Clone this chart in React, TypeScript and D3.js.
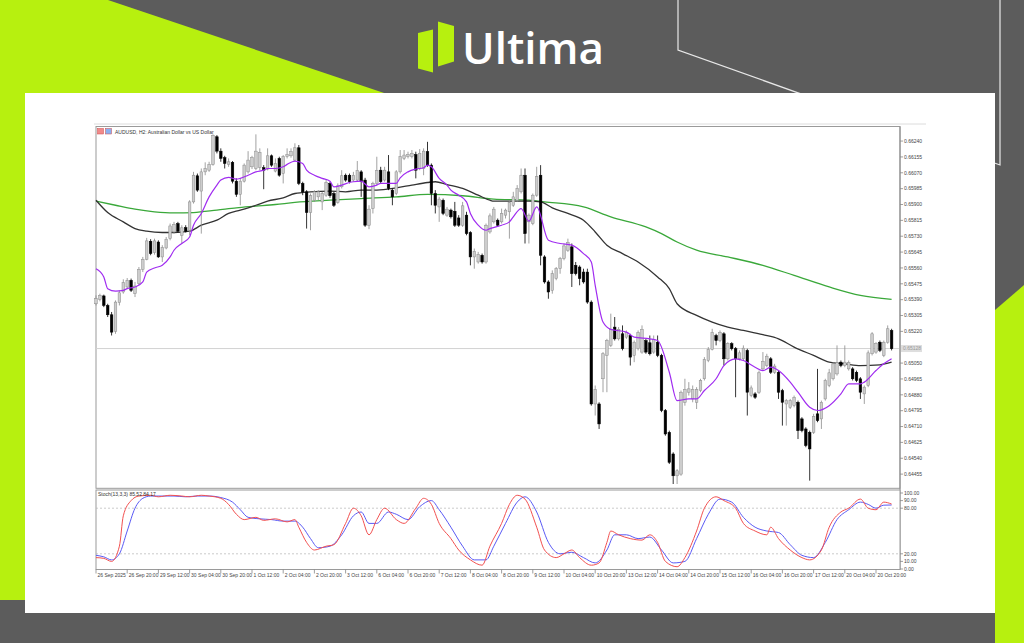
import React from "react";
import * as d3 from "d3";

const W = 1024;
const H = 643;

const symbolTitle = "AUDUSD, H2:  Australian Dollar vs US Dollar";
const stochTitle = "Stoch(13,3,3) 85.52 84.17";
const brandName = "Ultima";

const opens = [
  0.65368, 0.65392, 0.65410, 0.65359, 0.65309, 0.65220, 0.65374, 0.65431, 0.65458, 0.65494,
  0.65422, 0.65476, 0.65553, 0.65606, 0.65703, 0.65642, 0.65699, 0.65619, 0.65667, 0.65717,
  0.65753, 0.65798, 0.65735, 0.65776, 0.65762, 0.65914, 0.66054, 0.65972, 0.66075, 0.66084,
  0.66115, 0.66263, 0.66186, 0.66151, 0.66115, 0.66126, 0.66025, 0.65954, 0.66025, 0.66075,
  0.66102, 0.66093, 0.66097, 0.66097, 0.66090, 0.66161, 0.66079, 0.66147, 0.66066, 0.66156,
  0.66161, 0.66138, 0.66204, 0.66013, 0.65968, 0.65857, 0.65923, 0.65941, 0.65914, 0.65950,
  0.66013, 0.65959, 0.65911, 0.65995, 0.66057, 0.66057, 0.66031, 0.66031, 0.66075, 0.66031,
  0.65789, 0.65878, 0.66013, 0.66084, 0.66031, 0.66075, 0.65977, 0.65959, 0.66075, 0.66147,
  0.66156, 0.66156, 0.66168, 0.66093, 0.66093, 0.66183, 0.66111, 0.65959, 0.65887, 0.65923,
  0.65843, 0.65870, 0.65864, 0.65828, 0.65789, 0.65843, 0.65750, 0.65619, 0.65592, 0.65628,
  0.65592, 0.65753, 0.65807, 0.65816, 0.65807, 0.65843, 0.65861, 0.65896, 0.65923, 0.65968,
  0.66057, 0.65807, 0.65798, 0.65950, 0.66057, 0.65619, 0.65485, 0.65440, 0.65503, 0.65556,
  0.65610, 0.65655, 0.65673, 0.65574, 0.65565, 0.65538, 0.65538, 0.65377, 0.64831, 0.64831,
  0.64966, 0.65091, 0.65145, 0.65243, 0.65180, 0.65207, 0.65189, 0.65198, 0.65091, 0.65127,
  0.65109, 0.65171, 0.65159, 0.65109, 0.65162, 0.65091, 0.64796, 0.64679, 0.64563, 0.64446,
  0.64455, 0.64840, 0.64894, 0.64858, 0.64840, 0.64903, 0.64966, 0.65064, 0.65123, 0.65198,
  0.65171, 0.65207, 0.65073, 0.65154, 0.65127, 0.65073, 0.65073, 0.65118, 0.64876, 0.64885,
  0.64894, 0.65019, 0.65037, 0.65073, 0.65001, 0.65001, 0.64903, 0.64831, 0.64813, 0.64822,
  0.64840, 0.64751, 0.64697, 0.64679, 0.64679, 0.64778, 0.64751, 0.64858, 0.64930, 0.64966,
  0.64992, 0.65055, 0.65037, 0.65019, 0.65019, 0.65001, 0.64966, 0.64885, 0.64930, 0.65100,
  0.65109, 0.65162, 0.65091, 0.65162, 0.65225,
];

const closes = [
  0.65395, 0.65413, 0.65359, 0.65309, 0.65216, 0.65377, 0.65427, 0.65481, 0.65494, 0.65440,
  0.65463, 0.65553, 0.65606, 0.65705, 0.65637, 0.65705, 0.65619, 0.65669, 0.65714, 0.65785,
  0.65794, 0.65757, 0.65775, 0.65757, 0.65914, 0.66057, 0.65977, 0.66075, 0.66093, 0.66115,
  0.66269, 0.66186, 0.66147, 0.66120, 0.66129, 0.66025, 0.65954, 0.66025, 0.66111, 0.66138,
  0.66151, 0.66186, 0.66179, 0.66084, 0.66161, 0.66111, 0.66120, 0.66057, 0.66156, 0.66168,
  0.66183, 0.66204, 0.66013, 0.65968, 0.65857, 0.65947, 0.65968, 0.65968, 0.65959, 0.66018,
  0.65947, 0.65896, 0.66000, 0.66054, 0.66031, 0.66022, 0.66057, 0.66081, 0.66022, 0.65789,
  0.65875, 0.66013, 0.66081, 0.66022, 0.66084, 0.65986, 0.65941, 0.66075, 0.66156, 0.66165,
  0.66168, 0.66174, 0.66084, 0.66174, 0.66186, 0.66111, 0.65959, 0.65896, 0.65929, 0.65852,
  0.65875, 0.65834, 0.65789, 0.65789, 0.65893, 0.65744, 0.65619, 0.65649, 0.65633, 0.65592,
  0.65789, 0.65839, 0.65875, 0.65789, 0.65852, 0.65870, 0.65911, 0.65941, 0.65986, 0.66057,
  0.65744, 0.65843, 0.65950, 0.66049, 0.65628, 0.65485, 0.65431, 0.65529, 0.65556, 0.65610,
  0.65678, 0.65696, 0.65529, 0.65529, 0.65503, 0.65485, 0.65377, 0.64831, 0.64908, 0.64724,
  0.65100, 0.65171, 0.65231, 0.65180, 0.65231, 0.65127, 0.65213, 0.65082, 0.65162, 0.65213,
  0.65231, 0.65109, 0.65100, 0.65177, 0.65091, 0.64796, 0.64670, 0.64518, 0.64446, 0.64473,
  0.64894, 0.64908, 0.64912, 0.64908, 0.64908, 0.64957, 0.65069, 0.65123, 0.65213, 0.65171,
  0.65213, 0.65073, 0.65154, 0.65127, 0.65073, 0.65105, 0.65130, 0.64894, 0.64917, 0.64867,
  0.64998, 0.65060, 0.65087, 0.65001, 0.65034, 0.64894, 0.64840, 0.64849, 0.64849, 0.64867,
  0.64688, 0.64688, 0.64608, 0.64590, 0.64765, 0.64742, 0.64840, 0.64957, 0.64998, 0.65046,
  0.65052, 0.65037, 0.65055, 0.65052, 0.64966, 0.64957, 0.64894, 0.64921, 0.65105, 0.65207,
  0.65154, 0.65118, 0.65162, 0.65234, 0.65127,
];

const highs = [
  0.65413, 0.65422, 0.65417, 0.65368, 0.65324, 0.65386, 0.65440, 0.65499, 0.65506, 0.65503,
  0.65485, 0.65565, 0.65619, 0.65721, 0.65714, 0.65717, 0.65708, 0.65682, 0.65726, 0.65798,
  0.65807, 0.65807, 0.65789, 0.65789, 0.65923, 0.66075, 0.66066, 0.66093, 0.66126, 0.66129,
  0.66276, 0.66272, 0.66201, 0.66161, 0.66147, 0.66133, 0.66040, 0.66040, 0.66120, 0.66186,
  0.66161, 0.66276, 0.66201, 0.66111, 0.66201, 0.66168, 0.66147, 0.66156, 0.66165, 0.66201,
  0.66201, 0.66228, 0.66219, 0.66022, 0.65977, 0.65959, 0.65977, 0.65977, 0.65968, 0.66031,
  0.66022, 0.65968, 0.66013, 0.66084, 0.66066, 0.66066, 0.66075, 0.66133, 0.66084, 0.66043,
  0.65896, 0.66022, 0.66156, 0.66102, 0.66102, 0.66165, 0.65986, 0.66084, 0.66192, 0.66192,
  0.66183, 0.66192, 0.66183, 0.66197, 0.66201, 0.66236, 0.66120, 0.65977, 0.65941, 0.65932,
  0.65887, 0.65878, 0.65914, 0.65843, 0.65914, 0.65861, 0.65757, 0.65664, 0.65646, 0.65637,
  0.65798, 0.65852, 0.65887, 0.65825, 0.65878, 0.65878, 0.65923, 0.65968, 0.66004, 0.66093,
  0.66093, 0.65852, 0.65959, 0.66102, 0.66111, 0.65628, 0.65494, 0.65547, 0.65565, 0.65619,
  0.65691, 0.65717, 0.65691, 0.65592, 0.65574, 0.65556, 0.65556, 0.65386, 0.64930, 0.64840,
  0.65109, 0.65180, 0.65315, 0.65297, 0.65243, 0.65252, 0.65225, 0.65207, 0.65171, 0.65225,
  0.65252, 0.65180, 0.65198, 0.65198, 0.65198, 0.65100, 0.64804, 0.64688, 0.64572, 0.64482,
  0.64903, 0.64966, 0.64948, 0.64930, 0.64921, 0.64966, 0.65082, 0.65136, 0.65234, 0.65207,
  0.65225, 0.65216, 0.65162, 0.65162, 0.65136, 0.65118, 0.65145, 0.65127, 0.64930, 0.64894,
  0.65010, 0.65109, 0.65100, 0.65082, 0.65046, 0.65010, 0.64912, 0.64858, 0.64858, 0.64876,
  0.64849, 0.64760, 0.64706, 0.64688, 0.64778, 0.65019, 0.64849, 0.64966, 0.65019, 0.65055,
  0.65145, 0.65064, 0.65145, 0.65064, 0.65028, 0.65010, 0.64975, 0.64930, 0.65118, 0.65216,
  0.65162, 0.65171, 0.65171, 0.65252, 0.65234,
];

const lows = [
  0.65359, 0.65381, 0.65350, 0.65297, 0.65198, 0.65207, 0.65359, 0.65422, 0.65449, 0.65431,
  0.65404, 0.65467, 0.65538, 0.65601, 0.65628, 0.65631, 0.65614, 0.65592, 0.65660, 0.65708,
  0.65744, 0.65750, 0.65691, 0.65750, 0.65735, 0.65905, 0.65968, 0.65744, 0.66057, 0.66075,
  0.66108, 0.66174, 0.66129, 0.66093, 0.66102, 0.66013, 0.65941, 0.65896, 0.66018, 0.66066,
  0.66090, 0.66084, 0.66084, 0.65982, 0.66083, 0.66102, 0.66072, 0.66049, 0.66013, 0.66147,
  0.66151, 0.66129, 0.66004, 0.65950, 0.65771, 0.65762, 0.65914, 0.65923, 0.65870, 0.65941,
  0.65936, 0.65887, 0.65904, 0.65986, 0.66022, 0.66013, 0.66022, 0.66022, 0.65941, 0.65780,
  0.65768, 0.65852, 0.66004, 0.66013, 0.66022, 0.65977, 0.65896, 0.65950, 0.66066, 0.66138,
  0.66147, 0.66147, 0.66040, 0.66084, 0.66057, 0.66102, 0.65896, 0.65852, 0.65807, 0.65843,
  0.65834, 0.65825, 0.65780, 0.65780, 0.65780, 0.65735, 0.65574, 0.65556, 0.65583, 0.65583,
  0.65583, 0.65744, 0.65798, 0.65780, 0.65798, 0.65825, 0.65717, 0.65887, 0.65914, 0.65959,
  0.65691, 0.65691, 0.65789, 0.65941, 0.65574, 0.65476, 0.65395, 0.65422, 0.65494, 0.65529,
  0.65601, 0.65646, 0.65458, 0.65520, 0.65467, 0.65476, 0.65368, 0.64822, 0.64769, 0.64697,
  0.64894, 0.64894, 0.65136, 0.65171, 0.65171, 0.65118, 0.65180, 0.65037, 0.65055, 0.65118,
  0.65100, 0.65100, 0.65091, 0.65100, 0.65082, 0.64787, 0.64661, 0.64509, 0.64402, 0.64402,
  0.64446, 0.64822, 0.64876, 0.64840, 0.64804, 0.64894, 0.64957, 0.65055, 0.65118, 0.65145,
  0.65162, 0.65037, 0.65064, 0.65118, 0.64867, 0.65064, 0.65064, 0.64769, 0.64867, 0.64858,
  0.64885, 0.65010, 0.65028, 0.64992, 0.64992, 0.64858, 0.64715, 0.64715, 0.64804, 0.64813,
  0.64643, 0.64679, 0.64599, 0.64420, 0.64670, 0.64733, 0.64697, 0.64849, 0.64921, 0.64957,
  0.64983, 0.65028, 0.65028, 0.65010, 0.64957, 0.64948, 0.64858, 0.64831, 0.64921, 0.65091,
  0.65100, 0.65109, 0.65082, 0.65154, 0.65118,
];

// moving averages: [bar index, price]
const maFast: [number, number][] = [
  [0, 0.65556], [2, 0.65512], [3, 0.65449], [5, 0.65436], [7, 0.6544], [8, 0.65449], [10, 0.65458],
  [12, 0.65485], [13, 0.65538], [15, 0.6556], [17, 0.65574], [19, 0.65619], [20, 0.65655], [22, 0.65691],
  [24, 0.65726], [25, 0.65789], [27, 0.65852], [29, 0.65941], [31, 0.66004], [32, 0.66031], [34, 0.66045],
  [36, 0.66036], [37, 0.6604], [39, 0.66057], [41, 0.66075], [43, 0.66084], [44, 0.66093], [46, 0.66093],
  [48, 0.66102], [49, 0.66115], [51, 0.66133], [53, 0.6612], [54, 0.66084], [56, 0.66057], [58, 0.6604],
  [60, 0.66025], [61, 0.65995], [63, 0.66004], [65, 0.66018], [66, 0.66022], [68, 0.66025], [70, 0.65995],
  [72, 0.66004], [73, 0.66013], [75, 0.66013], [77, 0.66013], [78, 0.66043], [80, 0.66075], [82, 0.6609],
  [84, 0.66097], [85, 0.66111], [86, 0.66102], [88, 0.6604], [90, 0.66004], [91, 0.65977], [93, 0.6595],
  [95, 0.65914], [96, 0.65852], [98, 0.65789], [100, 0.65762], [101, 0.65771], [104, 0.65789], [106, 0.65807],
  [107, 0.65834], [109, 0.65878], [111, 0.65811], [113, 0.65887], [116, 0.65708], [119, 0.65691], [122, 0.65682],
  [125, 0.65637], [127, 0.65592], [128, 0.65467], [130, 0.6527], [132, 0.65231], [136, 0.65216], [138, 0.65189],
  [142, 0.6518], [144, 0.65171], [147, 0.65001], [149, 0.64849], [152, 0.64858], [154, 0.64858], [156, 0.64903],
  [159, 0.64966], [161, 0.65037], [164, 0.65073], [166, 0.65064], [169, 0.65028], [171, 0.6501], [173, 0.65028],
  [175, 0.6501], [178, 0.64948], [180, 0.64894], [183, 0.64813], [185, 0.64796], [188, 0.64822], [191, 0.64885],
  [193, 0.64939], [196, 0.64939], [197, 0.64948], [200, 0.6501], [202, 0.65046], [204, 0.65073],
];

const maMid: [number, number][] = [
  [0, 0.65923], [3, 0.65857], [7, 0.65807], [10, 0.65771], [13, 0.65757], [17, 0.6575], [20, 0.6575],
  [24, 0.65757], [27, 0.65789], [31, 0.65816], [34, 0.65852], [37, 0.6587], [41, 0.65896], [44, 0.65918],
  [48, 0.65936], [51, 0.65959], [55, 0.65968], [60, 0.65972], [64, 0.65968], [68, 0.65977], [72, 0.65977],
  [77, 0.65989], [81, 0.66004], [85, 0.66018], [87, 0.66022], [90, 0.66007], [94, 0.65986], [98, 0.6595],
  [101, 0.65923], [102, 0.65918], [107, 0.65918], [111, 0.65918], [114, 0.65914], [117, 0.65882], [121, 0.65852],
  [125, 0.65816], [128, 0.65753], [131, 0.65682], [135, 0.65637], [139, 0.65592], [144, 0.65512], [147, 0.65449],
  [149, 0.65368], [154, 0.65306], [158, 0.6527], [162, 0.65243], [166, 0.65225], [171, 0.65202], [175, 0.6518],
  [179, 0.65136], [184, 0.65091], [188, 0.65055], [192, 0.65046], [196, 0.65037], [201, 0.65041], [204, 0.65055],
];

const maSlow: [number, number][] = [
  [0, 0.65918], [5, 0.65896], [10, 0.65875], [15, 0.65861], [20, 0.65855], [25, 0.65857], [31, 0.6587],
  [36, 0.65882], [41, 0.65891], [46, 0.659], [51, 0.65911], [60, 0.65923], [68, 0.65932], [77, 0.65941],
  [85, 0.65954], [94, 0.65947], [102, 0.65929], [111, 0.65923], [115, 0.65914], [125, 0.65887], [132, 0.65834],
  [141, 0.6578], [145, 0.65744], [149, 0.65699], [154, 0.65655], [162, 0.65619], [171, 0.65574], [179, 0.6552],
  [188, 0.65458], [196, 0.65413], [204, 0.65392],
];

// stochastic: [bar index, value]
const stochMain: [number, number][] = [
  [0, 15], [2, 14], [4, 10], [6, 30], [7, 70], [9, 90], [11, 96], [14, 97], [16, 95], [19, 97], [22, 96],
  [24, 95], [27, 97], [29, 96], [32, 93], [34, 85], [36, 72], [38, 65], [41, 68], [43, 64], [46, 66], [49, 62],
  [51, 65], [52, 55], [54, 35], [56, 25], [59, 30], [61, 32], [64, 60], [66, 80], [68, 70], [70, 45], [72, 65],
  [74, 80], [77, 65], [79, 60], [82, 80], [84, 93], [86, 85], [88, 60], [91, 40], [93, 25], [96, 12], [99, 5],
  [101, 30], [104, 60], [106, 85], [108, 97], [110, 92], [113, 55], [115, 25], [118, 15], [120, 20], [122, 25],
  [124, 15], [127, 5], [129, 8], [131, 35], [132, 50], [134, 45], [137, 40], [140, 38], [142, 45], [144, 35],
  [146, 10], [149, 3], [151, 15], [154, 50], [156, 80], [159, 95], [161, 90], [164, 80], [166, 60], [169, 50],
  [172, 45], [173, 55], [175, 40], [178, 25], [181, 15], [183, 12], [186, 25], [188, 55], [191, 75], [193, 80],
  [196, 92], [198, 80], [200, 78], [202, 88], [204, 85.5],
];

const stochSignal: [number, number][] = [
  [0, 18], [2, 16], [4, 12], [6, 20], [8, 50], [10, 80], [12, 93], [14, 96], [17, 96], [20, 96], [23, 95],
  [26, 96], [29, 96], [32, 94], [35, 88], [37, 78], [39, 68], [42, 66], [45, 65], [48, 63], [51, 63], [53, 55],
  [55, 40], [57, 28], [60, 30], [63, 45], [66, 70], [68, 75], [70, 60], [72, 60], [75, 75], [77, 72], [80, 65],
  [83, 82], [86, 90], [88, 78], [91, 55], [94, 30], [97, 12], [100, 12], [102, 30], [105, 60], [108, 88],
  [110, 95], [113, 75], [116, 35], [119, 20], [122, 22], [125, 15], [128, 8], [131, 25], [133, 45], [136, 45],
  [139, 40], [142, 42], [145, 25], [148, 8], [151, 10], [154, 40], [157, 72], [160, 92], [163, 88], [166, 68],
  [169, 55], [172, 50], [175, 48], [178, 32], [181, 18], [184, 15], [187, 35], [190, 65], [193, 78], [196, 88],
  [198, 85], [200, 80], [202, 84], [204, 84.2],
];

const timeLabels = [
  "26 Sep 2025", "26 Sep 20:00", "29 Sep 12:00", "30 Sep 04:00", "30 Sep 20:00", "1 Oct 12:00",
  "2 Oct 04:00", "2 Oct 20:00", "3 Oct 12:00", "6 Oct 04:00", "6 Oct 20:00", "7 Oct 12:00",
  "8 Oct 04:00", "8 Oct 20:00", "9 Oct 12:00", "10 Oct 04:00", "10 Oct 20:00", "13 Oct 12:00",
  "14 Oct 04:00", "14 Oct 20:00", "15 Oct 12:00", "16 Oct 04:00", "16 Oct 20:00", "17 Oct 12:00",
  "20 Oct 04:00", "20 Oct 20:00",
];
const timeLabelBars = [
  0, 8, 16, 24, 32, 40, 48, 56, 64, 72, 80, 88, 96, 104, 112, 120, 128, 136, 144, 152, 160, 168, 176, 184, 192, 200,
];

const priceTicks = [
  0.6624, 0.66155, 0.6607, 0.65985, 0.659, 0.65815, 0.6573, 0.65645, 0.6556, 0.65475, 0.6539,
  0.65305, 0.6522, 0.6505, 0.64965, 0.6488, 0.64795, 0.6471, 0.64625, 0.6454, 0.64455,
];
const stochTicks = [100, 90, 80, 20, 10, 0];
const stochLevels = [80, 20];
const currentPrice = 0.65128;

const LIME = "#b7f00f";
const BG = "#5c5c5c";
const FONT = "'Liberation Sans', Arial, sans-serif";

export default function App() {
  const L = 96, R = 900;
  const mainTop = 126.5, mainBot = 488.3;
  const stTop = 490, stBot = 569.5;

  const x = d3.scaleLinear().domain([0, 204]).range([96, 891.6]);
  const y = d3.scaleLinear().domain([0.64379, 0.66317]).range([mainBot, 126.7]);
  const ys = d3.scaleLinear().domain([0, 100]).range([569, 493]);

  const maLine = d3
    .line<[number, number]>()
    .x((d) => x(d[0]))
    .y((d) => y(d[1]))
    .curve(d3.curveMonotoneX);
  const stLine = d3
    .line<[number, number]>()
    .x((d) => x(d[0]))
    .y((d) => ys(d[1]))
    .curve(d3.curveMonotoneX);

  const bw = 2.6;

  return (
    <div style={{ position: "absolute", left: 0, top: 0, width: W, height: H }}>
      <svg width={W} height={H} viewBox={`0 0 ${W} ${H}`} style={{ display: "block" }}>
        <rect x={0} y={0} width={W} height={H} fill={BG} />
        {/* decorative lime shapes */}
        <polygon points="0,0 108,0 390,95 25,95 25,600 0,600" fill={LIME} />
        <polygon points="1024,285 995,310 995,643 1024,643" fill={LIME} />
        {/* thin decorative lines */}
        <polyline points="678,0 678,50 1000,165 1000,0" fill="none" stroke="#e8e8e8" strokeWidth={1.2} />

        {/* logo */}
        <polygon points="418,33 433,29.5 433,72.5 418,68.5" fill={LIME} />
        <polygon points="438,21.5 454,26 454,61.5 438,66.5" fill={LIME} />
        <text x={462} y={64} fontFamily="'Open Sans', Lato, sans-serif" fontWeight={600} fontSize={44} fill="#ffffff">
          {brandName}
        </text>

        {/* white panel */}
        <rect x={25} y={93} width={970} height={520} fill="#ffffff" />

        {/* terminal window top rule */}
        <line x1={94} x2={926} y1={124} y2={124} stroke="#dcdcdc" strokeWidth={1} />

        {/* main chart frame */}
        <rect x={L} y={mainTop} width={R - L} height={mainBot - mainTop} fill="#ffffff" stroke="#9a9a9a" strokeWidth={1} />
        {/* current price line */}
        <line x1={L} x2={R} y1={y(currentPrice)} y2={y(currentPrice)} stroke="#d2d2d2" strokeWidth={1} />

        {/* moving averages */}
        <path d={maLine(maSlow) || ""} fill="none" stroke="#3aa83a" strokeWidth={1.3} />
        <path d={maLine(maMid) || ""} fill="none" stroke="#333333" strokeWidth={1.3} />

        {/* candles */}
        {opens.map((o, i) => {
          const c = closes[i];
          const hi = Math.max(highs[i], o, c);
          const lo = Math.min(lows[i], o, c);
          const bull = c >= o;
          const cx = x(i);
          const top = y(Math.max(o, c));
          const bot = y(Math.min(o, c));
          const col = bull ? "#8a8a8a" : "#000000";
          return (
            <g key={i}>
              <line x1={cx} x2={cx} y1={y(hi)} y2={y(lo)} stroke={col} strokeWidth={0.8} />
              <rect
                x={cx - bw / 2}
                y={top}
                width={bw}
                height={Math.max(bot - top, 0.8)}
                fill={bull ? "#cdcdcd" : "#000000"}
                stroke={col}
                strokeWidth={0.5}
              />
            </g>
          );
        })}

        <path d={maLine(maFast) || ""} fill="none" stroke="#a02cf0" strokeWidth={1.2} />

        {/* header */}
        <rect x={97.5} y={128.5} width={6} height={5.5} fill="#f08a8a" stroke="#d04848" strokeWidth={0.5} />
        <rect x={105.5} y={128.5} width={6} height={5.5} fill="#8ab0f0" stroke="#d04848" strokeWidth={0.5} />
        <text x={115} y={133.5} fontFamily={FONT} fontSize={5} fill="#333">
          {symbolTitle}
        </text>

        {/* price axis */}
        <line x1={R} x2={R} y1={mainTop} y2={stBot} stroke="#888" strokeWidth={1} />
        {priceTicks.map((p) => (
          <g key={p}>
            <line x1={R} x2={R + 3} y1={y(p)} y2={y(p)} stroke="#888" strokeWidth={0.8} />
            <text x={R + 4} y={y(p)} dy="0.35em" fontFamily={FONT} fontSize={5} fill="#444">
              {p.toFixed(5)}
            </text>
          </g>
        ))}
        <rect x={R + 1} y={y(currentPrice) - 3.5} width={21} height={7} fill="#dedede" />
        <text x={R + 3} y={y(currentPrice)} dy="0.35em" fontFamily={FONT} fontSize={5} fill="#9a9a9a">
          {currentPrice.toFixed(5)}
        </text>

        {/* stochastic panel */}
        <rect x={L} y={stTop} width={R - L} height={stBot - stTop} fill="#ffffff" stroke="#9a9a9a" strokeWidth={1} />
        {stochLevels.map((v) => (
          <line key={v} x1={L} x2={R} y1={ys(v)} y2={ys(v)} stroke="#b4b4b4" strokeWidth={0.7} strokeDasharray="2,2" />
        ))}
        <path d={stLine(stochSignal) || ""} fill="none" stroke="#5a5af5" strokeWidth={1} />
        <path d={stLine(stochMain) || ""} fill="none" stroke="#f25050" strokeWidth={1} />
        <text x={98} y={496} fontFamily={FONT} fontSize={5} fill="#333">
          {stochTitle}
        </text>
        {stochTicks.map((v) => (
          <g key={v}>
            <line x1={R} x2={R + 3} y1={ys(v)} y2={ys(v)} stroke="#888" strokeWidth={0.8} />
            <text x={R + 4} y={ys(v)} dy="0.35em" fontFamily={FONT} fontSize={5} fill="#444">
              {v.toFixed(2)}
            </text>
          </g>
        ))}

        {/* time axis */}
        {timeLabels.map((t, k) => {
          const tx = x(timeLabelBars[k]);
          return (
            <g key={t}>
              <line x1={tx} x2={tx} y1={stBot} y2={stBot + 4} stroke="#888" strokeWidth={0.8} />
              <text x={tx + 1.5} y={577} fontFamily={FONT} fontSize={5} fill="#444">
                {t}
              </text>
            </g>
          );
        })}
      </svg>
    </div>
  );
}
